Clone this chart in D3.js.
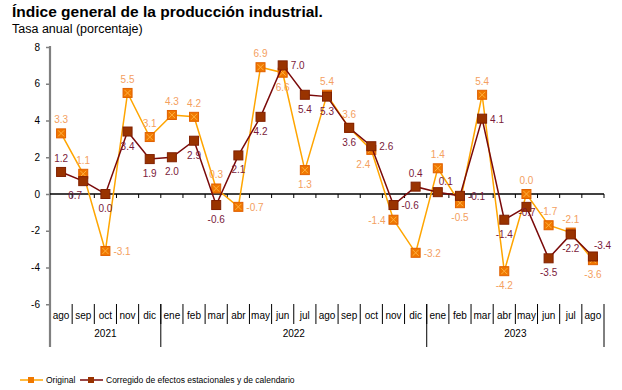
<!DOCTYPE html>
<html>
<head>
<meta charset="utf-8">
<script src="https://cdn.jsdelivr.net/npm/d3@7"></script>
<style>
body { margin: 0; background: #fff; font-family: Arial, "Liberation Sans", sans-serif; }
svg text { font-family: Arial, "Liberation Sans", sans-serif; }
</style>
</head>
<body>
<svg id="chart" width="622" height="390"></svg>
<script>
// months ago 2021 .. ago 2023
var months = ["ago","sep","oct","nov","dic","ene","feb","mar","abr","may","jun","jul",
              "ago","sep","oct","nov","dic","ene","feb","mar","abr","may","jun","jul","ago"];
var years = [{label: "2021", from: 0, to: 4}, {label: "2022", from: 5, to: 16}, {label: "2023", from: 17, to: 24}];

var original = [3.3, 1.1, -3.1, 5.5, 3.1, 4.3, 4.2, 0.3, -0.7, 6.9, 6.6, 1.3,
                5.4, 3.6, 2.4, -1.4, -3.2, 1.4, -0.5, 5.4, -4.2, 0.0, -1.7, -2.1, -3.6];
var corregido = [1.2, 0.7, 0.0, 3.4, 1.9, 2.0, 2.9, -0.6, 2.1, 4.2, 7.0, 5.4,
                 5.3, 3.6, 2.6, -0.6, 0.4, 0.1, -0.1, 4.1, -1.4, -0.7, -3.5, -2.2, -3.4];

// where each value label sits: t = top, b = bottom, r = right, l = left
var origPos = ["t","t","r","t","t","t","t","t","r","t","b","b",
               "t","t","bl","l","r","t","b","t","b","t","t","t","b"];
var corrPos = ["t","bl","b","b","b","b","b","b","b","b","r","b",
               "b","b","r","r","t","tr","r","r","b","br","b","b","tr"];

var yTicks = [8, 6, 4, 2, 0, -2, -4, -6];

// hyphen minus like the source
var fmt1 = function(v) { return d3.format(".1f")(v).replace("\u2212", "-"); };
var fmt0 = function(v) { return d3.format("d")(v).replace("\u2212", "-"); };

var svg = d3.select("#chart");

svg.append("text").attr("x", 12).attr("y", 17)
  .style("font-size", "15.5px").style("font-weight", "bold").attr("fill", "#000")
  .text("Índice general de la producción industrial.");
svg.append("text").attr("x", 12).attr("y", 33)
  .style("font-size", "12.5px").attr("fill", "#000")
  .text("Tasa anual (porcentaje)");

var x = d3.scaleBand().domain(d3.range(months.length)).range([50, 604]);
var y = d3.scaleLinear().domain([-8, 8]).range([341, 47]);
var cx = function(i) { return x(i) + x.bandwidth() / 2; };

// y axis
var yAxis = svg.append("g").attr("transform", "translate(50,0)")
  .call(d3.axisLeft(y).tickValues(yTicks).tickSize(4).tickFormat(fmt0));
yAxis.select(".domain").remove();
yAxis.selectAll(".tick line").attr("stroke", "#808080").attr("stroke-width", 1.5);
yAxis.selectAll(".tick text").attr("x", -10).style("font-size", "10px").attr("fill", "#000");
svg.append("line").attr("x1", 50).attr("x2", 50).attr("y1", 46).attr("y2", 347)
  .attr("stroke", "#808080").attr("stroke-width", 2.2);

// zero line with month ticks
var zero = svg.append("g").attr("transform", "translate(0," + y(0) + ")");
zero.selectAll("line.tk").data(d3.range(1, months.length + 1)).join("line")
  .attr("x1", function(i) { return x.step() * i + 50; })
  .attr("x2", function(i) { return x.step() * i + 50; })
  .attr("y1", 0).attr("y2", 4).attr("stroke", "#000").attr("stroke-width", 1);
zero.append("line").attr("x1", 50).attr("x2", 604).attr("y1", 0).attr("y2", 0)
  .attr("stroke", "#000").attr("stroke-width", 1.6);

// category labels
svg.selectAll("text.month").data(months).join("text").attr("class", "month")
  .attr("x", function(d, i) { return cx(i); }).attr("y", 319)
  .attr("text-anchor", "middle").style("font-size", "10px").attr("fill", "#000")
  .text(function(d) { return d; });
var seps = d3.range(1, months.length);
svg.selectAll("line.sep").data(seps).join("line").attr("class", "sep")
  .attr("x1", function(i) { return x(i); }).attr("x2", function(i) { return x(i); })
  .attr("y1", 304).attr("y2", 324).attr("stroke", "#000").attr("stroke-width", 1);
svg.selectAll("line.ysep").data([years[0].to + 1, years[1].to + 1, months.length]).join("line")
  .attr("class", "ysep")
  .attr("x1", function(i) { return x.step() * i + 50; }).attr("x2", function(i) { return x.step() * i + 50; })
  .attr("y1", 304).attr("y2", 347).attr("stroke", "#000").attr("stroke-width", 1);
svg.selectAll("text.year").data(years).join("text").attr("class", "year")
  .attr("x", function(d) { return (x(d.from) + x(d.to) + x.bandwidth()) / 2; }).attr("y", 337)
  .attr("text-anchor", "middle").style("font-size", "10px").attr("fill", "#000")
  .text(function(d) { return d.label; });

var line = d3.line().x(function(d, i) { return cx(i); }).y(function(d) { return y(d); });

function drawSeries(vals, pos, lineCol, fill, stroke, labelCol, cross) {
  svg.append("path").datum(vals).attr("d", line).attr("fill", "none")
    .attr("stroke", lineCol).attr("stroke-width", 1.5);
  var m = svg.append("g").selectAll("g").data(vals).join("g")
    .attr("transform", function(d, i) { return "translate(" + cx(i) + "," + y(d) + ")"; });
  m.append("rect").attr("x", -4.5).attr("y", -4.5).attr("width", 9).attr("height", 9)
    .attr("fill", fill).attr("stroke", stroke).attr("stroke-width", 1);
  if (cross) {
    m.append("path").attr("d", "M-3,-3L3,3M3,-3L-3,3").attr("stroke", "#ffb040").attr("stroke-width", 1);
  }
  svg.append("g").selectAll("text").data(vals).join("text")
    .attr("x", function(d, i) {
      var p = pos[i];
      if (p === "r") return cx(i) + 8;
      if (p === "l" || p === "bl") return cx(i) - 8;
      if (p === "tr") return cx(i) + 1;
      if (p === "br") return cx(i) - 8;
      return cx(i);
    })
    .attr("y", function(d, i) {
      var p = pos[i];
      if (p === "t") return y(d) - 10;
      if (p === "tr") return y(d) - 7;
      if (p === "b" || p === "bl") return y(d) + 18;
      if (p === "br") return y(d) + 9;
      return y(d) + 4;
    })
    .attr("text-anchor", function(d, i) {
      var p = pos[i];
      if (p === "r" || p === "tr" || p === "br") return "start";
      if (p === "l") return "end";
      return "middle";
    })
    .style("font-size", "10px").attr("fill", labelCol)
    .text(function(d) { return fmt1(d); });
}

drawSeries(original, origPos, "#ffa500", "#f07800", "#e06000", "#f4a060", true);
drawSeries(corregido, corrPos, "#7a0a0a", "#993300", "#802000", "#7a1a3a", false);

// legend
var lg = svg.append("g").attr("transform", "translate(0,380)");
lg.append("line").attr("x1", 20).attr("x2", 43).attr("stroke", "#ffa500").attr("stroke-width", 1.5);
lg.append("rect").attr("x", 28).attr("y", -3).attr("width", 6).attr("height", 6).attr("fill", "#f07800");
lg.append("text").attr("x", 46).attr("y", 3).style("font-size", "8.5px").text("Original");
lg.append("line").attr("x1", 80).attr("x2", 103).attr("stroke", "#7a0a0a").attr("stroke-width", 1.5);
lg.append("rect").attr("x", 88).attr("y", -3).attr("width", 6).attr("height", 6).attr("fill", "#993300");
lg.append("text").attr("x", 106).attr("y", 3).style("font-size", "8.5px")
  .text("Corregido de efectos estacionales y de calendario");
</script>
</body>
</html>
